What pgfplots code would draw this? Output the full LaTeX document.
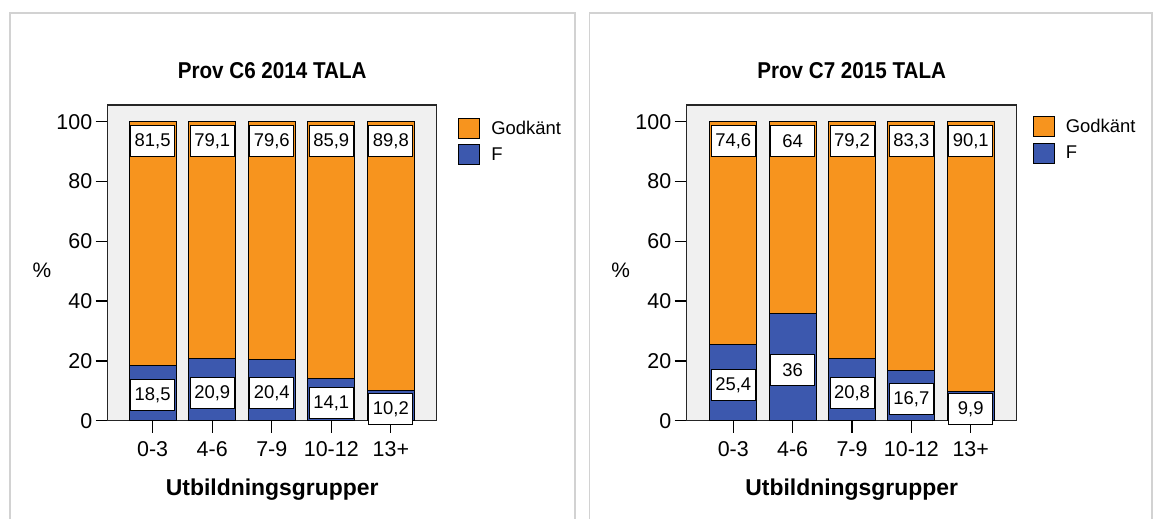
\documentclass[border=0pt]{standalone}
\usepackage{pgfplots}
\pgfplotsset{compat=1.18}
\usepackage{pgfplotstable}
\usepackage{fontspec}
\setmainfont{Liberation Sans}
\newfontfamily\narrowfont{Liberation Sans}[FakeStretch=0.9]
\definecolor{gorange}{RGB}{247,148,30}
\definecolor{fblue}{RGB}{60,88,174}
\definecolor{plotbg}{RGB}{240,240,240}
\definecolor{panel}{RGB}{210,210,210}

\pgfplotstableread{
x F G fy gy fl gl
0 18.5 81.5 8.6 93.5 18,5 81,5
1 20.9 79.1 9.2 93.5 20,9 79,1
2 20.4 79.6 9.2 93.5 20,4 79,6
3 14.1 85.9 5.8 93.5 14,1 85,9
4 10.2 89.8 3.9 93.5 10,2 89,8
}\lefttab

\pgfplotstableread{
x F G fy gy fl gl
0 25.4 74.6 11.9 93.5 25,4 74,6
1 36.0 64.0 17.0 93.5 36 64
2 20.8 79.2 9.3 93.5 20,8 79,2
3 16.7 83.3 7.3 93.5 16,7 83,3
4 9.9 90.1 3.9 93.5 9,9 90,1
}\righttab

\pgfplotsset{
  geom/.style={scale only axis, anchor=south west, width=329bp, height=315.7bp,
    ymin=0, ymax=105.6, clip=false},
  mainax/.style={geom,
    ybar stacked, bar width=47bp,
    axis background/.style={fill=plotbg},
    axis line style={line width=1.3pt, black!85},
    xtick={0,1,2,3,4}, xticklabels={0-3,4-6,7-9,10-12,13+},
    ytick={0,20,40,60,80,100},
    tick pos=left, tick align=outside, major tick length=12bp,
    tick style={line width=1.3pt, black},
    tick label style={font=\fontsize{21.5}{21.5}\selectfont},
    xticklabel style={yshift=-5bp},
    /pgf/number format/assume math mode=true,
    ylabel={\%},
    ylabel style={rotate=-90, at={(axis description cs:-0.2,0.477)}, anchor=center,
      font=\fontsize{21}{21}\selectfont},
    xlabel={Utbildningsgrupper},
    xlabel style={at={(axis description cs:0.5,-0.2385)}, anchor=base,
      font=\bfseries\fontsize{23}{23}\selectfont},
    title style={at={(axis description cs:0.5,1.0665)}, anchor=base,
      font=\narrowfont\bfseries\fontsize{23}{23}\selectfont},
    legend style={draw=none, fill=none, anchor=north west,
      font=\fontsize{18.5}{18.5}\selectfont, inner sep=0pt, row sep=5.5bp,
      column sep=9bp, cells={anchor=west}},
    reverse legend,
    legend image code/.code={\draw[#1, draw=black, line width=1pt] (0bp,-10bp) rectangle (21bp,10bp);},
  },
  labax/.style={geom, hide axis},
  labplot/.style={draw=none, nodes near coords, point meta=explicit symbolic,
    every node near coord/.append style={anchor=center, fill=white, draw=black,
      line width=0.9pt, minimum width=44bp, minimum height=31bp, inner sep=0pt,
      font=\fontsize{18.5}{18.5}\selectfont, text=black}},
}

\begin{document}
\begin{tikzpicture}
\path[use as bounding box] (0bp,0bp) rectangle (1157bp,519bp);
\fill[white] (0bp,0bp) rectangle (1157bp,519bp);
\draw[panel, line width=1.5bp] (10bp,0bp) -- (10bp,506bp) -- (575bp,506bp) -- (575bp,0bp);
\draw[panel, line width=1.5bp] (589.5bp,0bp) -- (589.5bp,506bp) -- (1152bp,506bp) -- (1152bp,0bp);

% left panel
\begin{axis}[mainax, at={(107.7bp,98.3bp)}, xmin=-0.755, xmax=4.77,
  title={Prov C6 2014 TALA}, legend style={at={(1.065,0.96)}}]
  \addplot[fill=fblue, draw=black, line width=1pt] table[x=x,y=F]{\lefttab};
  \addplot[fill=gorange, draw=black, line width=1pt] table[x=x,y=G]{\lefttab};
  \legend{F,Godkänt}
\end{axis}
\begin{axis}[labax, at={(107.7bp,98.3bp)}, xmin=-0.755, xmax=4.77]
  \addplot[labplot] table[x=x,y=fy,meta=fl]{\lefttab};
  \addplot[labplot] table[x=x,y=gy,meta=gl]{\lefttab};
\end{axis}

% right panel
\begin{axis}[mainax, at={(686.7bp,98.3bp)}, width=330bp, xmin=-0.785, xmax=4.775,
  title={Prov C7 2015 TALA}, legend style={at={(1.0485,0.965)}}]
  \addplot[fill=fblue, draw=black, line width=1pt] table[x=x,y=F]{\righttab};
  \addplot[fill=gorange, draw=black, line width=1pt] table[x=x,y=G]{\righttab};
  \legend{F,Godkänt}
\end{axis}
\begin{axis}[labax, at={(686.7bp,98.3bp)}, width=330bp, xmin=-0.785, xmax=4.775]
  \addplot[labplot] table[x=x,y=fy,meta=fl]{\righttab};
  \addplot[labplot] table[x=x,y=gy,meta=gl]{\righttab};
\end{axis}
\end{tikzpicture}
\end{document}
